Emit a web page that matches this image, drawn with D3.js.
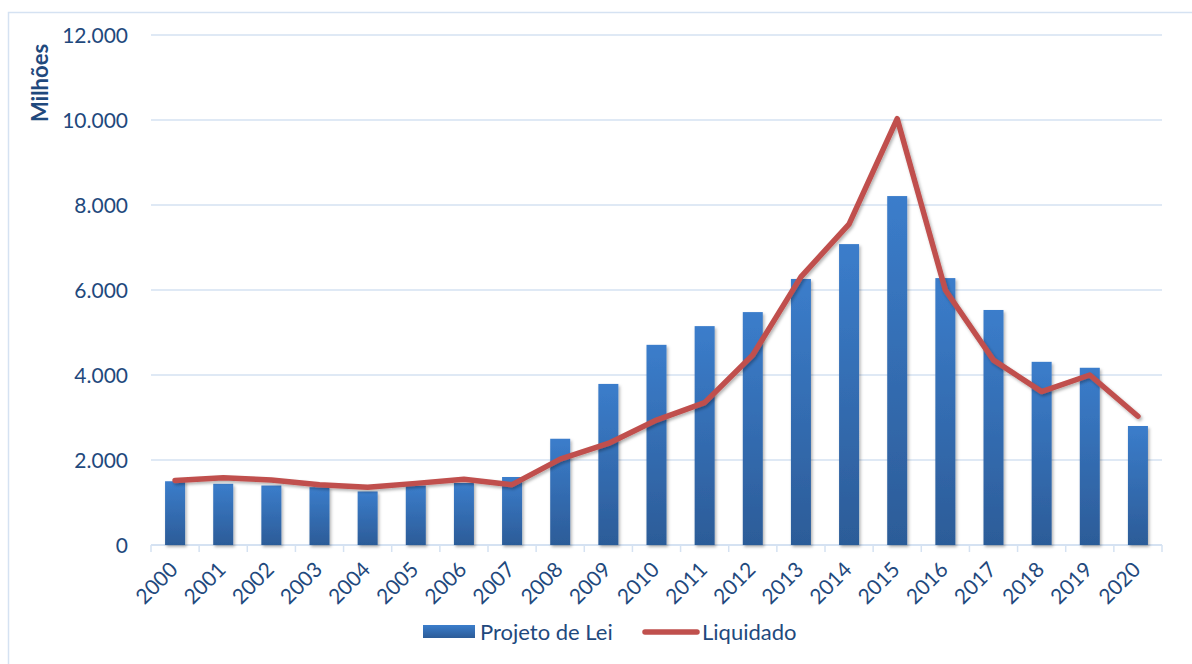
<!DOCTYPE html>
<html>
<head>
<meta charset="utf-8">
<script src="https://cdn.jsdelivr.net/npm/d3@7"></script>
<style>
  html, body { margin: 0; padding: 0; background: #fff; }
  svg { display: block; }
</style>
</head>
<body>
<svg id="chart" width="1192" height="664"></svg>
<script>
// Annual amounts, in millions
const years = ["2000","2001","2002","2003","2004","2005","2006","2007","2008","2009","2010",
               "2011","2012","2013","2014","2015","2016","2017","2018","2019","2020"];
const projetoDeLei = [1500,1440,1400,1360,1260,1400,1460,1600,2500,3790,4710,
                      5150,5480,6260,7080,8210,6280,5530,4310,4170,2800];
const liquidado = [1520,1580,1530,1420,1360,1450,1545,1420,2020,2390,2940,
                   3350,4470,6310,7550,10030,6000,4350,3610,4000,3030];
const yTicks = [0,2000,4000,6000,8000,10000,12000];
const seriesNames = ["Projeto de Lei","Liquidado"];

const textColor = "#1F497D";
const gridColor = "#D5E2F2";
const lineColor = "#C0504D";
const font = "Lato, 'Open Sans', sans-serif";

const svg = d3.select("#chart");
const defs = svg.append("defs");

const grad = defs.append("linearGradient")
  .attr("id", "barFill").attr("x1", 0).attr("y1", 0).attr("x2", 0).attr("y2", 1);
grad.append("stop").attr("offset", "0%").attr("stop-color", "#3B7DCB");
grad.append("stop").attr("offset", "100%").attr("stop-color", "#2C5C98");

const shadow = defs.append("filter").attr("id", "shadow")
  .attr("x", "-30%").attr("y", "-10%").attr("width", "160%").attr("height", "130%");
shadow.append("feDropShadow").attr("dx", 1.5).attr("dy", 2)
  .attr("stdDeviation", 1.8).attr("flood-color", "#000").attr("flood-opacity", 0.3);

// Chart frame
svg.append("rect")
  .attr("x", 8.5).attr("y", 12.5).attr("width", 1200).attr("height", 700)
  .attr("fill", "none").attr("stroke", gridColor).attr("stroke-width", 1.5);

const plot = { left: 151, right: 1162, top: 35, bottom: 545 };

const x = d3.scaleBand().domain(years).range([plot.left, plot.right]).paddingInner(0).paddingOuter(0);
const y = d3.scaleLinear().domain([0, 12000]).range([plot.bottom, plot.top]);

// Horizontal gridlines
svg.append("g").selectAll("line").data(yTicks.filter(d => d > 0)).join("line")
  .attr("x1", plot.left).attr("x2", plot.right)
  .attr("y1", d => y(d)).attr("y2", d => y(d))
  .attr("stroke", gridColor).attr("stroke-width", 1.5);

// Y axis labels
const fmt = d3.formatLocale({ decimal: ",", thousands: ".", grouping: [3], currency: ["", ""] }).format(",");
svg.append("g").selectAll("text").data(yTicks).join("text")
  .attr("x", 128).attr("y", d => y(d))
  .attr("dy", "0.36em")
  .attr("text-anchor", "end")
  .attr("font-family", font).attr("font-size", 21)
  .attr("fill", textColor)
  .text(d => fmt(d));

// Y axis title
svg.append("text")
  .attr("transform", "translate(48,83) rotate(-90)")
  .attr("text-anchor", "middle")
  .attr("font-family", font).attr("font-size", 22).attr("font-weight", "bold")
  .attr("fill", textColor)
  .text("Milhões");

// X axis line and ticks at band boundaries
const xAxis = svg.append("g");
xAxis.append("line")
  .attr("x1", plot.left).attr("x2", plot.right)
  .attr("y1", plot.bottom).attr("y2", plot.bottom)
  .attr("stroke", gridColor).attr("stroke-width", 2);
const edges = years.map(d => x(d)).concat([x(years[years.length - 1]) + x.bandwidth()]);
xAxis.selectAll("line.tick").data(edges).join("line").attr("class", "tick")
  .attr("x1", d => d).attr("x2", d => d)
  .attr("y1", plot.bottom).attr("y2", plot.bottom + 7)
  .attr("stroke", gridColor).attr("stroke-width", 1.5);

// Bars
const barW = 20;
svg.append("g").attr("filter", "url(#shadow)")
  .selectAll("rect").data(years).join("rect")
  .attr("x", (d) => x(d) + x.bandwidth() / 2 - barW / 2)
  .attr("width", barW)
  .attr("y", (d, i) => y(projetoDeLei[i]))
  .attr("height", (d, i) => y(0) - y(projetoDeLei[i]))
  .attr("fill", "url(#barFill)");

// X labels
svg.append("g").selectAll("text").data(years).join("text")
  .attr("transform", d => `translate(${x(d) + x.bandwidth() / 2 + 4},${plot.bottom + 26}) rotate(-45)`)
  .attr("text-anchor", "end")
  .attr("font-family", font).attr("font-size", 21)
  .attr("fill", textColor)
  .text(d => d);

// Liquidado line
const line = d3.line()
  .x((d, i) => x(years[i]) + x.bandwidth() / 2)
  .y(d => y(d));
svg.append("path")
  .datum(liquidado)
  .attr("d", line)
  .attr("fill", "none")
  .attr("stroke", lineColor).attr("stroke-width", 5.5)
  .attr("stroke-linejoin", "round").attr("stroke-linecap", "round")
  .attr("filter", "url(#shadow)");

// Legend
const legend = svg.append("g").attr("font-family", font).attr("font-size", 22).attr("fill", textColor);
legend.append("rect").attr("x", 423).attr("y", 625).attr("width", 52).attr("height", 13)
  .attr("fill", "url(#barFill)");
legend.append("text").attr("x", 480).attr("y", 640).text(seriesNames[0]);
legend.append("line").attr("x1", 645).attr("x2", 697).attr("y1", 632).attr("y2", 632)
  .attr("stroke", lineColor).attr("stroke-width", 5.5).attr("stroke-linecap", "round");
legend.append("text").attr("x", 702).attr("y", 640).text(seriesNames[1]);
</script>
</body>
</html>
